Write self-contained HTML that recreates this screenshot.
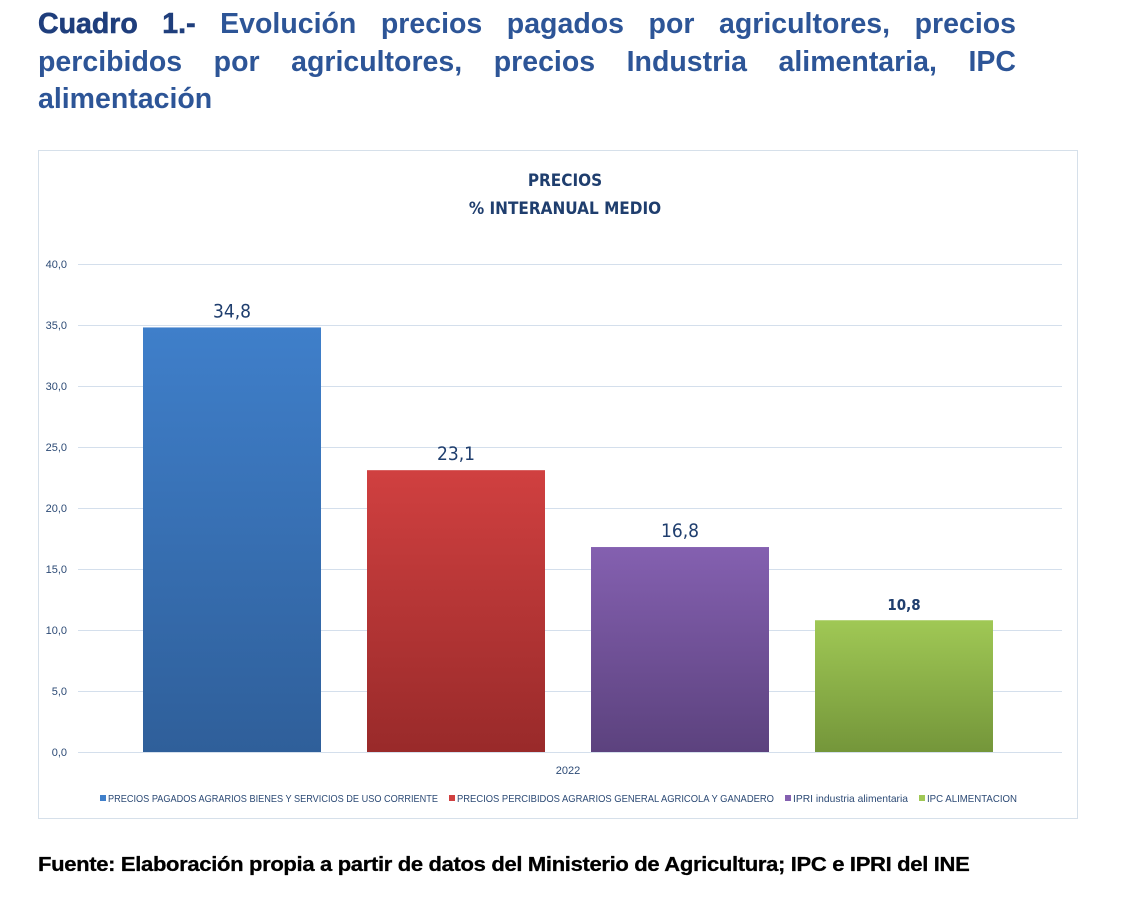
<!DOCTYPE html>
<html><head><meta charset="utf-8"><style>
body{margin:0;width:1125px;height:903px;background:#fff;font-family:"Liberation Sans",sans-serif;position:relative;overflow:hidden}
#title{position:absolute;left:38px;top:6px;width:978px;font-size:28.5px;font-weight:bold;color:#2d5597;line-height:37.5px;text-align:justify;text-align-last:left}
#title b{color:#1f3e7c}
#src{position:absolute;left:38px;top:854px;font-size:20px;font-weight:bold;color:#000;letter-spacing:-0.3px;transform:scaleX(1.1);transform-origin:left top;white-space:nowrap;-webkit-text-stroke:0.3px #000}
svg{position:absolute;left:0;top:0}
</style></head><body>
<div id="title"><b style="-webkit-text-stroke:0.6px #1f3e7c">Cuadro 1.-</b> Evolución precios pagados por agricultores, precios percibidos por agricultores, precios Industria alimentaria, IPC alimentación</div>
<svg id="chart" width="1125" height="903"></svg>
<div id="src">Fuente: Elaboración propia a partir de datos del Ministerio de Agricultura; IPC e IPRI del INE</div>
<script>
const categories=["2022"];
const seriesNames=["PRECIOS PAGADOS AGRARIOS BIENES Y SERVICIOS DE USO CORRIENTE","PRECIOS PERCIBIDOS  AGRARIOS GENERAL AGRICOLA Y GANADERO","IPRI industria alimentaria","IPC ALIMENTACION"];
const seriesValues=[34.8,23.1,16.8,10.8];
const valueLabels=["34,8","23,1","16,8","10,8"];
const yTicks=[0,5,10,15,20,25,30,35,40];
const yTickLabels=["0,0","5,0","10,0","15,0","20,0","25,0","30,0","35,0","40,0"];
const colors=[["#3f7fca","#2f5f9a"],["#d04040","#992a2a"],["#8460b0","#5c427e"],["#a0c855","#74963a"]];
const NS="http://www.w3.org/2000/svg";
const svg=document.getElementById('chart');
function mk(t,a,p){const e=document.createElementNS(NS,t);for(const k in a)e.setAttribute(k,a[k]);(p||svg).appendChild(e);return e;}
const y=v=>752-v*12.2;
const x0=78,x1=1062;
let defs=mk('defs',{});
colors.forEach((c,i)=>{const g=mk('linearGradient',{id:'g'+i,x1:0,y1:0,x2:0,y2:1},defs);mk('stop',{offset:0,'stop-color':c[0]},g);mk('stop',{offset:1,'stop-color':c[1]},g);});
let r=mk('rect',{x:38.5,y:150.5,width:1039,height:668,fill:'#fff',stroke:'#d6e0ea'});


let t=mk('text',{x:565,y:186,'text-anchor':'middle','font-size':17,'font-weight':'bold',fill:'#1f3e6e','font-family':'DejaVu Sans Condensed, Liberation Sans, sans-serif'});t.textContent='PRECIOS';


t=mk('text',{x:565,y:214,'text-anchor':'middle','font-size':17,'font-weight':'bold',fill:'#1f3e6e','font-family':'DejaVu Sans Condensed, Liberation Sans, sans-serif'});t.textContent='% INTERANUAL MEDIO';


yTicks.forEach((v,i)=>{
 let l=mk('line',{x1:x0,x2:x1,y1:y(v)+0.5,y2:y(v)+0.5,stroke:'#d4dfec','stroke-width':1});
 
 
 let tx=mk('text',{x:67,y:y(v)+4,'text-anchor':'end','font-size':11,fill:'#2c4a75','font-family':'Liberation Sans Narrow, Liberation Sans, sans-serif'});tx.textContent=yTickLabels[i];
 
 
});
const catW=x1-x0, slot=224, bw=178;
categories.forEach((c,ci)=>{
 const cx=x0+catW*(ci+0.5)-2;
 seriesValues.forEach((v,i)=>{
  const bx=cx-(seriesValues.length*slot)/2+i*slot+(slot-bw)/2;
  let b=mk('rect',{x:bx,y:y(v),width:bw,height:y(0)-y(v),fill:'url(#g'+i+')'});
  
  
  let lb=mk('text',{x:bx+bw/2,y:y(v)-10,'text-anchor':'middle','font-size':i==3?15:19,'font-weight':i==3?'bold':'normal',fill:'#1f3e6e','font-family':'DejaVu Sans Condensed, Liberation Sans, sans-serif'});lb.textContent=valueLabels[i];
  
  
 });
 let cl=mk('text',{x:cx,y:774,'text-anchor':'middle','font-size':11,fill:'#2c4a75','font-family':'Liberation Sans Narrow, Liberation Sans, sans-serif'});cl.textContent=c;
 
 
});
const lg=mk('g',{});


let lx=100;
const widths=[340,327,125,100];
seriesNames.forEach((n,i)=>{
 let s=mk('rect',{x:lx,y:795,width:6,height:6,fill:colors[i][0]},lg);
 
 
 let tx=mk('text',{x:lx+8,y:802,'font-size':10.5,fill:'#2c4a75','font-family':'Liberation Sans Narrow, Liberation Sans, sans-serif',textLength:widths[i]-10,lengthAdjust:'spacingAndGlyphs'},lg);tx.textContent=n;
 
 
 lx+=widths[i]+9;
});
</script>
</body></html>
